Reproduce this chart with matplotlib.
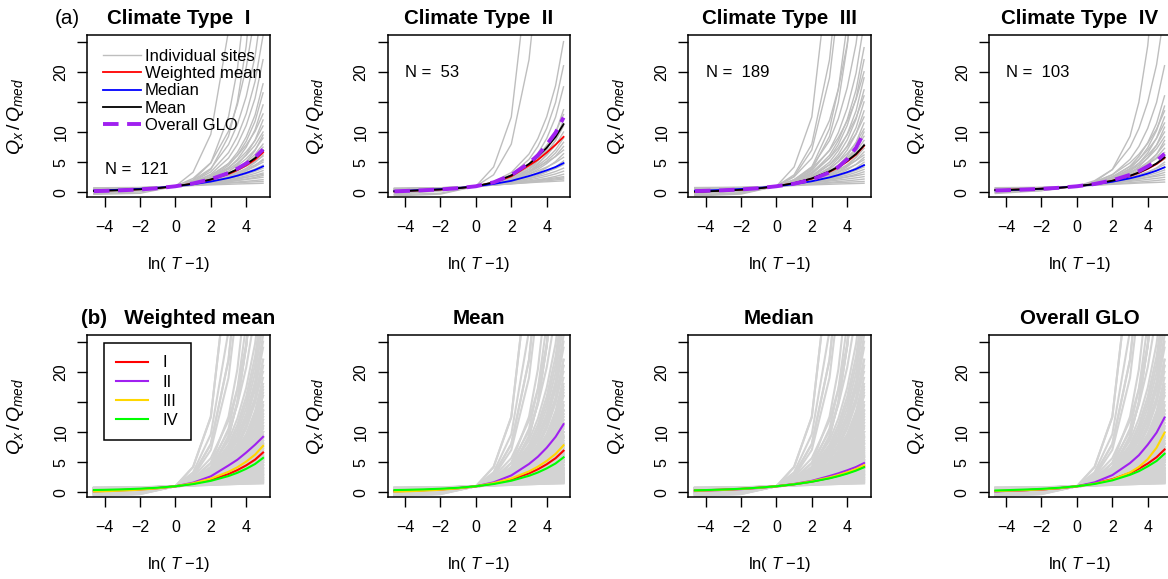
import matplotlib.pyplot as plt

plt.rcParams['font.family'] = ['Liberation Sans', 'DejaVu Sans']
plt.rcParams['mathtext.fontset'] = 'custom'
plt.rcParams['mathtext.rm'] = 'Liberation Sans'
plt.rcParams['mathtext.it'] = 'Liberation Sans:italic'
plt.rcParams['mathtext.bf'] = 'Liberation Sans:bold'

# x positions, ln(T-1)
XG = [-4.6, -2, 0, 1, 2, 3, 3.5, 4, 4.5, 4.95]                  # site curves
XS = [-4.6, -4, -3, -2, -1, 0, 1, 2, 3, 3.5, 4, 4.5, 4.95]      # summary curves

# Q_x/Q_med of individual sites
SITES_I = [
    [0.26, 0.72, 1, 1.12, 1.23, 1.33, 1.38, 1.42, 1.46, 1.5],
    [-0.19, 0.55, 1, 1.19, 1.37, 1.53, 1.6, 1.67, 1.74, 1.8],
    [0.38, 0.69, 1, 1.18, 1.38, 1.59, 1.71, 1.83, 1.96, 2.1],
    [0.15, 0.58, 1, 1.24, 1.51, 1.81, 1.97, 2.14, 2.31, 2.5],
    [0.61, 0.77, 1, 1.18, 1.42, 1.75, 1.96, 2.2, 2.48, 2.8],
    [0.53, 0.71, 1, 1.22, 1.52, 1.92, 2.17, 2.47, 2.81, 3.2],
    [0.44, 0.66, 1, 1.26, 1.61, 2.09, 2.39, 2.73, 3.13, 3.6],
    [0.36, 0.61, 1, 1.3, 1.71, 2.26, 2.6, 3.0, 3.46, 4.0],
    [0.25, 0.55, 1, 1.35, 1.83, 2.47, 2.87, 3.33, 3.87, 4.5],
    [0.14, 0.48, 1, 1.4, 1.94, 2.68, 3.14, 3.66, 4.28, 5.0],
    [0.64, 0.74, 1, 1.26, 1.69, 2.4, 2.91, 3.57, 4.42, 5.5],
    [0.58, 0.7, 1, 1.3, 1.8, 2.62, 3.21, 3.97, 4.95, 6.2],
    [-0.08, 0.35, 1, 1.5, 2.18, 3.1, 3.67, 4.33, 5.1, 6.0],
    [0.51, 0.66, 1, 1.35, 1.92, 2.87, 3.55, 4.43, 5.55, 7.0],
    [0.43, 0.6, 1, 1.41, 2.08, 3.18, 3.98, 5.0, 6.31, 8.0],
    [0.35, 0.54, 1, 1.46, 2.23, 3.49, 4.4, 5.57, 7.07, 9.0],
    [0.27, 0.49, 1, 1.52, 2.39, 3.8, 4.83, 6.14, 7.83, 10],
    [0.19, 0.43, 1, 1.58, 2.54, 4.11, 5.25, 6.71, 8.59, 11],
    [0.67, 0.75, 1, 1.35, 2.05, 3.45, 4.63, 6.29, 8.66, 12],
    [0.03, 0.32, 1, 1.7, 2.85, 4.73, 6.1, 7.85, 10.11, 13],
    [0.6, 0.69, 1, 1.43, 2.28, 4.01, 5.46, 7.49, 10.4, 14.5],
    [0.54, 0.64, 1, 1.5, 2.47, 4.46, 6.12, 8.46, 11.79, 16.5],
    [0.49, 0.61, 1, 1.54, 2.62, 4.79, 6.61, 9.18, 12.83, 18],
    [0.37, 0.52, 1, 1.67, 3.0, 5.68, 7.93, 11.1, 15.62, 22],
    [0.25, 0.43, 1, 1.8, 3.38, 6.58, 9.25, 13.03, 18.4, 26],
    [0.07, 0.29, 1, 1.99, 3.95, 7.91, 11.23, 15.91, 22.58, 32],
    [-0.23, 0.06, 1, 2.31, 4.9, 10.14, 14.53, 20.72, 29.54, 42],
    [0.57, 0.62, 1, 1.75, 3.77, 9.29, 14.95, 24.3, 39.7, 65],
    [0.4, 0.47, 1, 2.04, 4.85, 12.53, 20.4, 33.4, 54.8, 90],
    [-0.33, -0.17, 1, 3.33, 9.62, 26.8, 44.4, 73.4, 121, 200],
    [0.08, 0.44, 1, 1.43, 2.01, 2.8, 3.3, 3.86, 4.53, 5.3],
    [0.47, 0.63, 1, 1.38, 2.0, 3.02, 3.76, 4.71, 5.93, 7.5],
    [0.75, 0.8, 1, 1.27, 1.81, 2.9, 3.81, 5.09, 6.92, 9.5],
    [-0.14, 0.44, 1, 1.32, 1.68, 2.08, 2.29, 2.52, 2.75, 3.0],
]

SITES_II = [
    [-0.6, -0.3, 1, 4.2, 12.5, 38, 65, 110, 180, 300],
    [-0.4, -0.15, 1, 2.9, 8.0, 22, 36, 60, 100, 165],
    [0.28, 0.45, 1, 1.77, 3.28, 6.35, 8.92, 12.54, 17.7, 25],
    [0.4, 0.54, 1, 1.64, 2.9, 5.46, 7.6, 10.62, 14.92, 21],
    [0.5, 0.62, 1, 1.53, 2.57, 4.68, 6.45, 8.94, 12.48, 17.5],
    [0.62, 0.71, 1, 1.41, 2.21, 3.83, 5.19, 7.11, 9.84, 13.7],
    [0.04, 0.32, 1, 1.69, 2.83, 4.7, 6.06, 7.79, 10.03, 12.9],
    [0.67, 0.75, 1, 1.35, 2.05, 3.45, 4.63, 6.29, 8.66, 12],
    [0.19, 0.43, 1, 1.58, 2.54, 4.11, 5.25, 6.71, 8.59, 11],
    [0.27, 0.49, 1, 1.52, 2.39, 3.8, 4.83, 6.14, 7.83, 10],
    [0.35, 0.54, 1, 1.46, 2.23, 3.49, 4.4, 5.57, 7.07, 9.0],
    [0.41, 0.58, 1, 1.42, 2.12, 3.27, 4.1, 5.17, 6.54, 8.3],
    [0.47, 0.62, 1, 1.38, 2.02, 3.05, 3.81, 4.77, 6.01, 7.6],
    [-0.29, 0.22, 1, 1.6, 2.42, 3.51, 4.2, 5.0, 5.93, 7.0],
    [0.56, 0.69, 1, 1.31, 1.83, 2.68, 3.3, 4.08, 5.1, 6.4],
    [-0.03, 0.38, 1, 1.48, 2.13, 3.01, 3.56, 4.2, 4.94, 5.8],
    [0.66, 0.76, 1, 1.24, 1.65, 2.31, 2.79, 3.4, 4.19, 5.2],
    [0.23, 0.53, 1, 1.36, 1.85, 2.51, 2.92, 3.4, 3.96, 4.6],
    [0.36, 0.61, 1, 1.3, 1.71, 2.26, 2.6, 3.0, 3.46, 4.0],
    [0.46, 0.68, 1, 1.25, 1.59, 2.05, 2.34, 2.67, 3.05, 3.5],
    [0.57, 0.74, 1, 1.2, 1.47, 1.84, 2.07, 2.33, 2.64, 3.0],
    [0.09, 0.55, 1, 1.26, 1.55, 1.86, 2.03, 2.21, 2.4, 2.6],
    [0.32, 0.66, 1, 1.19, 1.41, 1.65, 1.78, 1.91, 2.05, 2.2],
    [-0.34, 0.49, 1, 1.22, 1.41, 1.59, 1.68, 1.75, 1.83, 1.9],
    [0.2, 0.61, 1, 1.23, 1.48, 1.75, 1.9, 2.06, 2.23, 2.4],
]

SITES_III = [
    [-0.6, -0.3, 1, 4.2, 12.5, 38, 65, 110, 180, 300],
    [-0.4, -0.15, 1, 2.9, 8.0, 22, 36, 60, 100, 165],
    [0.07, 0.18, 1, 2.63, 7.02, 19.0, 31.3, 51.6, 85, 140],
    [0.5, 0.56, 1, 1.87, 4.2, 10.58, 17.13, 27.9, 45.7, 75],
    [0.57, 0.62, 1, 1.75, 3.77, 9.29, 14.95, 24.3, 39.7, 65],
    [-0.47, -0.13, 1, 2.57, 5.66, 11.93, 17.17, 24.57, 35.1, 50],
    [-0.02, 0.22, 1, 2.09, 4.23, 8.58, 12.22, 17.35, 24.66, 35],
    [0.19, 0.38, 1, 1.86, 3.57, 7.02, 9.91, 13.99, 19.79, 28],
    [0.31, 0.47, 1, 1.74, 3.19, 6.13, 8.59, 12.06, 17.01, 24],
    [0.37, 0.52, 1, 1.67, 3.0, 5.68, 7.93, 11.1, 15.62, 22],
    [-0.54, -0.08, 1, 2.1, 3.93, 6.91, 9.08, 11.85, 15.42, 20],
    [0.46, 0.59, 1, 1.58, 2.71, 5.01, 6.94, 9.66, 13.53, 19],
    [0.52, 0.63, 1, 1.51, 2.52, 4.57, 6.28, 8.7, 12.14, 17],
    [-0.22, 0.15, 1, 1.87, 3.31, 5.67, 7.38, 9.57, 12.39, 16],
    [0.58, 0.68, 1, 1.45, 2.33, 4.12, 5.62, 7.73, 10.74, 15],
    [0.63, 0.71, 1, 1.4, 2.19, 3.79, 5.13, 7.01, 9.7, 13.5],
    [0.07, 0.34, 1, 1.67, 2.77, 4.58, 5.89, 7.57, 9.73, 12.5],
    [0.69, 0.76, 1, 1.34, 2.0, 3.34, 4.47, 6.05, 8.31, 11.5],
    [0.23, 0.46, 1, 1.55, 2.46, 3.95, 5.04, 6.42, 8.21, 10.5],
    [0.73, 0.79, 1, 1.29, 1.86, 3.01, 3.97, 5.33, 7.26, 10],
    [0.33, 0.53, 1, 1.48, 2.28, 3.58, 4.53, 5.74, 7.3, 9.3],
    [0.38, 0.57, 1, 1.44, 2.17, 3.36, 4.23, 5.34, 6.77, 8.6],
    [0.79, 0.84, 1, 1.22, 1.67, 2.56, 3.31, 4.37, 5.87, 8.0],
    [0.49, 0.64, 1, 1.37, 1.97, 2.96, 3.68, 4.6, 5.78, 7.3],
    [0.54, 0.68, 1, 1.33, 1.88, 2.77, 3.42, 4.25, 5.33, 6.7],
    [-0.12, 0.32, 1, 1.52, 2.23, 3.18, 3.78, 4.46, 5.27, 6.2],
    [0.61, 0.73, 1, 1.28, 1.74, 2.49, 3.04, 3.74, 4.64, 5.8],
    [0.05, 0.43, 1, 1.44, 2.04, 2.84, 3.35, 3.93, 4.61, 5.4],
    [0.68, 0.77, 1, 1.23, 1.62, 2.24, 2.7, 3.28, 4.04, 5.0],
    [0.23, 0.53, 1, 1.36, 1.85, 2.51, 2.92, 3.4, 3.96, 4.6],
    [0.31, 0.58, 1, 1.32, 1.76, 2.34, 2.71, 3.13, 3.63, 4.2],
    [0.4, 0.64, 1, 1.28, 1.66, 2.17, 2.5, 2.86, 3.3, 3.8],
    [0.48, 0.69, 1, 1.24, 1.57, 2.01, 2.28, 2.6, 2.97, 3.4],
    [-0.14, 0.44, 1, 1.32, 1.68, 2.08, 2.29, 2.52, 2.75, 3.0],
    [0.09, 0.55, 1, 1.26, 1.55, 1.86, 2.03, 2.21, 2.4, 2.6],
    [0.32, 0.66, 1, 1.19, 1.41, 1.65, 1.78, 1.91, 2.05, 2.2],
    [-0.19, 0.55, 1, 1.19, 1.37, 1.53, 1.6, 1.67, 1.74, 1.8],
    [0.26, 0.72, 1, 1.12, 1.23, 1.33, 1.38, 1.42, 1.46, 1.5],
]

SITES_IV = [
    [0.57, 0.62, 1, 1.75, 3.77, 9.29, 14.95, 24.3, 39.7, 65],
    [0.13, 0.33, 1, 1.93, 3.76, 7.47, 10.57, 14.95, 21.18, 30],
    [0.4, 0.54, 1, 1.64, 2.9, 5.46, 7.6, 10.62, 14.92, 21],
    [0.55, 0.66, 1, 1.48, 2.43, 4.35, 5.95, 8.22, 11.44, 16],
    [0.6, 0.69, 1, 1.43, 2.26, 3.97, 5.39, 7.4, 10.26, 14.3],
    [-0.01, 0.29, 1, 1.73, 2.93, 4.89, 6.31, 8.14, 10.49, 13.5],
    [0.66, 0.74, 1, 1.37, 2.09, 3.56, 4.8, 6.53, 9.0, 12.5],
    [0.15, 0.4, 1, 1.61, 2.62, 4.27, 5.46, 7.0, 8.97, 11.5],
    [0.71, 0.77, 1, 1.31, 1.93, 3.19, 4.23, 5.71, 7.82, 10.8],
    [0.27, 0.49, 1, 1.52, 2.39, 3.8, 4.83, 6.14, 7.83, 10],
    [0.34, 0.53, 1, 1.48, 2.26, 3.55, 4.49, 5.68, 7.22, 9.2],
    [0.77, 0.83, 1, 1.24, 1.72, 2.69, 3.51, 4.66, 6.29, 8.6],
    [0.43, 0.6, 1, 1.41, 2.08, 3.18, 3.98, 5.0, 6.31, 8.0],
    [0.49, 0.64, 1, 1.37, 1.97, 2.96, 3.68, 4.6, 5.78, 7.3],
    [-0.2, 0.27, 1, 1.56, 2.32, 3.35, 3.99, 4.73, 5.6, 6.6],
    [0.6, 0.72, 1, 1.29, 1.77, 2.56, 3.13, 3.86, 4.8, 6.0],
    [0.03, 0.42, 1, 1.45, 2.06, 2.89, 3.4, 4.0, 4.69, 5.5],
    [0.68, 0.77, 1, 1.23, 1.62, 2.24, 2.7, 3.28, 4.04, 5.0],
    [0.23, 0.53, 1, 1.36, 1.85, 2.51, 2.92, 3.4, 3.96, 4.6],
    [0.33, 0.6, 1, 1.31, 1.73, 2.3, 2.66, 3.06, 3.55, 4.1],
    [0.42, 0.65, 1, 1.27, 1.64, 2.13, 2.44, 2.8, 3.22, 3.7],
    [0.51, 0.7, 1, 1.23, 1.54, 1.96, 2.23, 2.53, 2.89, 3.3],
    [-0.08, 0.47, 1, 1.31, 1.65, 2.02, 2.23, 2.44, 2.66, 2.9],
    [0.15, 0.58, 1, 1.24, 1.51, 1.81, 1.97, 2.14, 2.31, 2.5],
    [0.38, 0.69, 1, 1.18, 1.38, 1.59, 1.71, 1.83, 1.96, 2.1],
    [-0.04, 0.61, 1, 1.17, 1.32, 1.46, 1.53, 1.59, 1.64, 1.7],
]

# summary growth curves per climate type (I, II, III, IV), on XS
WMEAN = [
    [0.26, 0.3, 0.39, 0.52, 0.71, 1, 1.43, 2.08, 3.03, 3.68, 4.47, 5.42, 6.6],
    [0.15, 0.22, 0.34, 0.47, 0.68, 1, 1.6, 2.65, 4.45, 5.4, 6.6, 7.9, 9.2],
    [0.12, 0.17, 0.28, 0.43, 0.66, 1, 1.5, 2.26, 3.4, 4.15, 5.1, 6.25, 7.7],
    [0.38, 0.41, 0.49, 0.6, 0.76, 1, 1.36, 1.9, 2.7, 3.24, 3.9, 4.7, 5.7],
]
MEDIAN = [
    [0.29, 0.34, 0.44, 0.57, 0.76, 1, 1.33, 1.78, 2.38, 2.76, 3.2, 3.71, 4.3],
    [0.2, 0.27, 0.39, 0.52, 0.72, 1, 1.38, 1.9, 2.7, 3.15, 3.65, 4.2, 4.85],
    [0.25, 0.3, 0.4, 0.55, 0.74, 1, 1.35, 1.83, 2.47, 2.87, 3.33, 3.87, 4.5],
    [0.32, 0.37, 0.46, 0.59, 0.77, 1, 1.32, 1.75, 2.32, 2.68, 3.1, 3.6, 4.15],
]
MEAN = [
    [0.22, 0.26, 0.36, 0.49, 0.69, 1, 1.45, 2.13, 3.14, 3.82, 4.65, 5.66, 6.9],
    [0.15, 0.22, 0.34, 0.47, 0.68, 1, 1.65, 2.8, 4.7, 5.9, 7.4, 9.2, 11.3],
    [0.1, 0.15, 0.26, 0.42, 0.65, 1, 1.52, 2.3, 3.47, 4.25, 5.21, 6.37, 7.8],
    [0.37, 0.4, 0.48, 0.59, 0.75, 1, 1.37, 1.92, 2.74, 3.29, 3.97, 4.79, 5.8],
]
GLO = [
    [0.19, 0.24, 0.34, 0.47, 0.68, 1, 1.47, 2.17, 3.21, 3.92, 4.77, 5.82, 7.1],
    [0.15, 0.22, 0.34, 0.47, 0.68, 1, 1.65, 2.85, 4.85, 6.15, 7.9, 9.9, 12.4],
    [0.2, 0.25, 0.34, 0.47, 0.68, 1, 1.42, 2.1, 3.3, 4.2, 5.5, 7.4, 9.9],
    [0.3, 0.35, 0.45, 0.57, 0.75, 1, 1.38, 1.98, 2.9, 3.5, 4.3, 5.2, 6.4],
]

TYPES = ['I', 'II', 'III', 'IV']
N_SITES = [121, 53, 189, 103]
SITES = [SITES_I, SITES_II, SITES_III, SITES_IV]
ALL_SITES = SITES_I + SITES_II + SITES_III + SITES_IV
ROW2_TITLES = ['(b)   Weighted mean', 'Mean', 'Median', 'Overall GLO']
ROW2_DATA = [WMEAN, MEAN, MEDIAN, GLO]

TYPE_COLORS = ['#FF0000', '#A020F0', '#FFD700', '#00FF00']
PURPLE = '#A020F0'

W, H = 1168, 579
fig = plt.figure(figsize=(W / 100, H / 100), dpi=100)


def add_panel(row, col):
    left = 87 + 300.5 * col
    top = 35 + 300 * row
    ax = fig.add_axes([left / W, 1 - (top + 162.3) / H, 182.6 / W, 162.3 / H])
    ax.set_xlim(-4.99, 5.32)
    ax.set_ylim(-0.83, 26.1)
    ax.set_xticks([-4, -2, 0, 2, 4])
    ax.set_yticks([0, 5, 10, 15, 20, 25], ['0', '5', '10', '', '20', ''])
    ax.tick_params(direction='out', length=7.5, width=1.0, labelsize=11.5)
    ax.tick_params(axis='x', pad=9)
    ax.tick_params(axis='y', pad=6, labelrotation=90)
    for lab in ax.get_yticklabels():
        lab.set_va('center')
    for sp in ax.spines.values():
        sp.set_linewidth(1.1)
    ax.set_xlabel('ln( $T$ \u22121)', fontsize=12)
    ax.xaxis.label.set_va('center')
    ax.xaxis.set_label_coords(0.5, -0.417)
    ax.set_ylabel(r'$Q_x\,/\,Q_{med}$', fontsize=14)
    ax.yaxis.label.set_va('center')
    ax.yaxis.set_label_coords(-0.393, 0.5)
    return ax


# row (a): one panel per climate type
for k in range(4):
    ax = add_panel(0, k)
    for i, ys in enumerate(SITES[k]):
        ax.plot(XG, ys, color='#BEBEBE', lw=1.0, zorder=1,
                label='Individual sites' if i == 0 else None)
    ax.plot(XS, WMEAN[k], color='#FF0000', lw=1.3, zorder=3, label='Weighted mean')
    ax.plot(XS, MEDIAN[k], color='#0000FF', lw=1.3, zorder=3, label='Median')
    ax.plot(XS, MEAN[k], color='black', lw=1.3, zorder=4, label='Mean')
    ax.plot(XS, GLO[k], color=PURPLE, lw=2.8, dashes=(4, 2.2), zorder=5,
            label='Overall GLO')
    ax.set_title('Climate Type  ' + TYPES[k], fontsize=14.8, fontweight='bold', pad=8)
    if k == 0:
        ax.legend(loc='upper left', bbox_to_anchor=(0.088, 0.915), frameon=False,
                  fontsize=12, borderpad=0, borderaxespad=0, handlelength=2.25,
                  handletextpad=0.25, labelspacing=0.14)
        ax.text(-4, 3.8, 'N =  %d' % N_SITES[k], fontsize=12, va='center', ha='left')
    else:
        ax.text(-4, 19.9, 'N =  %d' % N_SITES[k], fontsize=12, va='center', ha='left')

fig.text(55 / W, 1 - 23.5 / H, '(a)', fontsize=14.8, va='baseline', ha='left')

# row (b): all sites with the four climate types compared
for j in range(4):
    ax = add_panel(1, j)
    for ys in ALL_SITES:
        ax.plot(XG, ys, color='#D3D3D3', lw=1.5, zorder=1)
    for k in range(4):
        ax.plot(XS, ROW2_DATA[j][k], color=TYPE_COLORS[k], lw=1.5, zorder=3 + k,
                label=TYPES[k])
    ax.set_title(ROW2_TITLES[j], fontsize=14.8, fontweight='bold', pad=8)
    if j == 0:
        leg = ax.legend(loc='upper left', bbox_to_anchor=(0.093, 0.951), fontsize=12,
                        fancybox=False, edgecolor='black', framealpha=1,
                        borderpad=0.75, borderaxespad=0, handlelength=1.9,
                        handletextpad=0.85, labelspacing=0.25)
        leg.get_frame().set_linewidth(1.1)

fig.savefig('out.png', dpi=100)
